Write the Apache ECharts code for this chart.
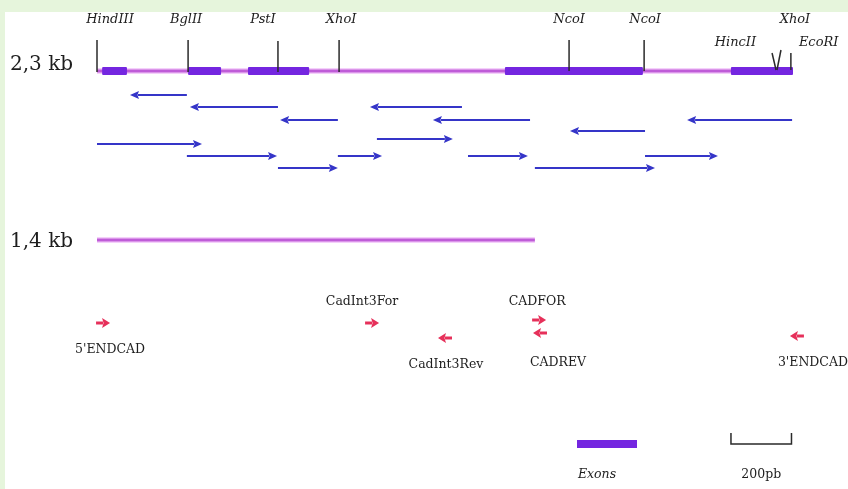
<!DOCTYPE html>
<html><head><meta charset="utf-8">
<script src="https://cdn.jsdelivr.net/npm/echarts@6/dist/echarts.min.js"></script>
<style>html,body{margin:0;padding:0;background:#e6f5dc}#c{width:848px;height:489px}</style>
</head><body><div id="c"></div>
<script>
// ---------------- DATA (positions in base pairs) ----------------
const constructNames = ['2,3 kb', '1,4 kb'];
const constructLengths = [2300, 1447];
const exonStarts = [17, 301, 499, 1348, 2095];
const exonEnds = [99, 410, 701, 1804, 2300];
const siteItalic = ['Hind', 'Bgl', 'Pst', 'Xho', 'Nco', 'Nco', 'Hinc', 'Xho', 'Eco'];
const siteRoman = ['III', 'II', 'I', 'I', 'I', 'I', 'II', 'I', 'RI'];
const sitePositions = [0, 301, 598, 800, 1560, 1808, 2244, 2247, 2293];
const revReadStarts = [109, 307, 605, 902, 1110, 1563, 1950];
const revReadEnds = [297, 598, 796, 1206, 1431, 1811, 2297];
const revReadRows = [0, 1, 2, 1, 2, 3, 2];
const fwdReadStarts = [0, 297, 598, 796, 925, 1226, 1447, 1811];
const fwdReadEnds = [347, 595, 796, 942, 1176, 1424, 1844, 2052];
const fwdReadRows = [5, 6, 7, 6, 4, 6, 7, 6];
const primerNames = ["5'ENDCAD", 'CadInt3For', 'CadInt3Rev', 'CADFOR', 'CADREV', "3'ENDCAD"];
const primerPositions = [20, 909, 1150, 1461, 1464, 2313];
const primerStrands = [1, 1, -1, 1, -1, -1];
const scaleBarBp = 200;
const scaleBarLabel = '200pb';
const legendLabel = 'Exons';

// ---------------- LAYOUT ----------------
const W = 848, H = 489;
const PX_PER_BP = 696 / 2300, ORIGIN_PX = 97;
const constructY = [71, 240];
const constructLabelY = [65, 242];
const readRowY = [95, 107, 120, 131, 139, 144, 156, 168];
const siteTickTop = [40, 40, 41, 40, 40, 40, 53, 50, 53];
const siteTickBottom = [72, 72, 72, 72, 71, 71, 70, 70, 70];
const siteTickSlant = [0, 0, 0, 0, 0, 0, -4, 4, 0];
const siteLabelDx = [13, -2, -15, 2, 0, 1, -20, 18, 8];
const siteLabelY = [20, 20, 20, 20, 20, 20, 43, 20, 43];
const siteLabelAlign = ['center', 'center', 'center', 'center', 'center', 'center', 'right', 'center', 'left'];
const primerArrowY = [323, 323, 338, 320, 333, 336];
const primerLabelDx = [7, -10, 1, -2, 18, 16];
const primerLabelY = [350, 302, 365, 302, 363, 363];
const scaleBarStartBp = 2095;

const serif = '"DejaVu Serif", "Liberation Serif", serif';
const geneColor = '#bf5cd8';
const exonColor = '#7426e0';
const readColor = '#3535c8';
const primerColor = '#e6305a';
const textColor = '#1e1e1e';

const chart = echarts.init(document.getElementById('c'), null, {renderer: 'canvas'});

function hline(x1, x2, y, stroke, lw) {
  return {type: 'line', shape: {x1, y1: y, x2, y2: y}, style: {stroke, lineWidth: lw}};
}

const series = [];

// construct lines + labels
series.push({
  type: 'custom', data: constructLengths.map((l, i) => [0, l, i]), z: 2,
  renderItem(params, api) {
    const i = params.dataIndex, y = constructY[i];
    const a = api.coord([0, y]), b = api.coord([constructLengths[i], y]);
    return {type: 'group', children: [
      hline(a[0], b[0], a[1], 'rgba(230,150,245,0.45)', 6),
      hline(a[0], b[0], a[1], geneColor, 3),
      {type: 'text', style: {text: constructNames[i], x: 10, y: constructLabelY[i], font: '20px ' + serif, fill: textColor, align: 'left', verticalAlign: 'middle'}}
    ]};
  }
});

// exons
series.push({
  type: 'custom', data: exonStarts.map((s, i) => [s, exonEnds[i]]), z: 3,
  renderItem(params, api) {
    const i = params.dataIndex, y = constructY[0];
    const a = api.coord([exonStarts[i], y]), b = api.coord([exonEnds[i], y]);
    return {type: 'rect', shape: {x: a[0], y: a[1] - 4, width: b[0] - a[0], height: 8, r: 1}, style: {fill: exonColor}};
  }
});

// restriction sites
series.push({
  type: 'custom', data: sitePositions.map((p, i) => [p, i]), z: 4,
  renderItem(params, api) {
    const i = params.dataIndex;
    const p = api.coord([sitePositions[i], siteTickBottom[i]]);
    const top = api.coord([sitePositions[i], siteTickTop[i]]);
    const x = p[0];
    return {type: 'group', children: [
      {type: 'line', shape: {x1: x, y1: p[1], x2: x + siteTickSlant[i], y2: top[1]}, style: {stroke: '#2a2a2a', lineWidth: 1.5}},
      {type: 'text', style: {
        text: '{i|' + siteItalic[i] + '}{r|' + siteRoman[i] + '}',
        x: x + siteLabelDx[i], y: siteLabelY[i], align: siteLabelAlign[i], verticalAlign: 'middle',
        rich: {
          i: {fontStyle: 'italic', fontFamily: serif, fontSize: 13, fill: textColor},
          r: {fontStyle: 'italic', fontFamily: serif, fontSize: 13, fill: textColor}
        }
      }}
    ]};
  }
});

// sequencing reads
function arrow(x1, x2, y, color, lw, headLen, headHalf) {
  const dir = x2 >= x1 ? 1 : -1;
  const base = x2 - dir * headLen;
  return [
    {type: 'line', shape: {x1, y1: y, x2: base + dir * 1, y2: y}, style: {stroke: color, lineWidth: lw}},
    {type: 'polygon', shape: {points: [[x2, y], [base, y - headHalf], [base + dir * 1.5, y], [base, y + headHalf]]}, style: {fill: color}}
  ];
}
const reads = [];
revReadStarts.forEach((s, i) => reads.push({from: revReadEnds[i], to: s, row: revReadRows[i]}));
fwdReadStarts.forEach((s, i) => reads.push({from: s, to: fwdReadEnds[i], row: fwdReadRows[i]}));
series.push({
  type: 'custom', data: reads.map(r => [r.from, r.to, r.row]), z: 3,
  renderItem(params, api) {
    const r = reads[params.dataIndex], y = readRowY[r.row];
    const a = api.coord([r.from, y]), b = api.coord([r.to, y]);
    return {type: 'group', children: arrow(a[0], b[0], a[1], readColor, 2, 9, 4)};
  }
});

// primers
series.push({
  type: 'custom', data: primerPositions.map((p, i) => [p, i]), z: 3,
  renderItem(params, api) {
    const i = params.dataIndex, d = primerStrands[i];
    const c = api.coord([primerPositions[i], primerArrowY[i]]);
    const kids = arrow(c[0] - 7 * d, c[0] + 7 * d, c[1], primerColor, 3, 8, 5);
    kids.push({type: 'text', style: {text: primerNames[i], x: c[0] + primerLabelDx[i], y: primerLabelY[i], font: '12.5px ' + serif, fill: textColor, align: 'center', verticalAlign: 'middle'}});
    return {type: 'group', children: kids};
  }
});

// scale bar
series.push({
  type: 'custom', data: [[scaleBarStartBp, scaleBarStartBp + scaleBarBp]], z: 3,
  renderItem(params, api) {
    const y = 444;
    const a = api.coord([scaleBarStartBp, y]), b = api.coord([scaleBarStartBp + scaleBarBp, y]);
    return {type: 'group', children: [
      {type: 'polyline', shape: {points: [[a[0], y - 11], [a[0], y], [b[0], y], [b[0], y - 11]]}, style: {stroke: '#2a2a2a', lineWidth: 1.5, fill: null}},
      {type: 'text', style: {text: scaleBarLabel, x: (a[0] + b[0]) / 2, y: 475, font: '12.5px ' + serif, fill: textColor, align: 'center', verticalAlign: 'middle'}}
    ]};
  }
});

chart.setOption({
  backgroundColor: '#e6f5dc',
  animation: false,
  grid: {left: 0, right: 0, top: 0, bottom: 0},
  xAxis: {type: 'value', min: -ORIGIN_PX / PX_PER_BP, max: (W - ORIGIN_PX) / PX_PER_BP, show: false},
  yAxis: {type: 'value', min: 0, max: H, inverse: true, show: false},
  graphic: [
    {type: 'rect', z: -10, shape: {x: 5, y: 12, width: W - 5, height: H - 12}, style: {fill: '#ffffff'}},
    {type: 'rect', z: 10, shape: {x: 577, y: 440, width: 60, height: 8}, style: {fill: exonColor}},
    {type: 'text', z: 10, style: {text: legendLabel, x: 597, y: 475, font: 'italic 12.5px ' + serif, fill: textColor, align: 'center', verticalAlign: 'middle'}}
  ],
  series
});
</script>
</body></html>
